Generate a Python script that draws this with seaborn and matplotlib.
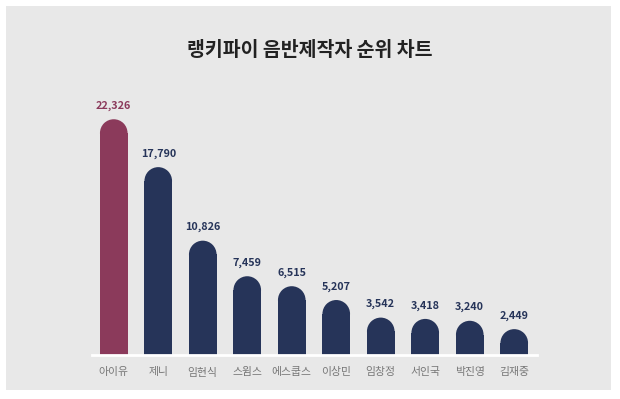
import pandas as pd
import matplotlib
matplotlib.use("Agg")
import matplotlib.pyplot as plt
from matplotlib.patches import Rectangle, Ellipse
import seaborn as sns

# Chart data
producers = ["아이유", "제니", "임현식", "스윔스", "에스쿱스",
             "이상민", "임창정", "서인국", "박진영", "김재중"]
scores = [22326, 17790, 10826, 7459, 6515, 5207, 3542, 3418, 3240, 2449]

NAVY = "#263459"
MAROON = "#8b3a5b"
PANEL = "#e8e8e8"

sns.set_theme(style="white")
plt.rcParams["font.family"] = ["Noto Sans CJK KR", "DejaVu Sans"]

df = pd.DataFrame({"producer": producers, "score": scores})
palette = [MAROON] + [NAVY] * (len(producers) - 1)

W, H = 620, 399
fig = plt.figure(figsize=(W / 100, H / 100), dpi=100, facecolor="white")

# gray panel behind the chart
fig.patches.append(Rectangle((6 / W, 1 - 390 / H), 605 / W, 384 / H,
                             transform=fig.transFigure, facecolor=PANEL,
                             edgecolor="none", zorder=-1))

ax = fig.add_axes([91.5 / W, 1 - 355 / H, 445 / W, 264 / H])
ax.set_facecolor("none")

sns.barplot(data=df, x="producer", y="score", hue="producer",
            palette=palette, saturation=1, width=0.62, legend=False, ax=ax)
ax.set_xlim(-0.5, len(producers) - 0.5)
ax.set_ylim(0, 25000)

# round the bar tops: shorten each bar by the cap radius, add a half-ellipse
# that looks like a circle on screen
fig.canvas.draw()
px_x = ax.transData.transform((1, 0))[0] - ax.transData.transform((0, 0))[0]
px_y = ax.transData.transform((0, 1))[1] - ax.transData.transform((0, 0))[1]
aspect = px_x / px_y
for bar in list(ax.patches):
    x0, w, h = bar.get_x(), bar.get_width(), bar.get_height()
    ry = (w / 2) * aspect
    bar.set_height(h - ry)
    bar.set_edgecolor("none")
    ax.add_patch(Ellipse((x0 + w / 2, h - ry), w, 2 * ry,
                         facecolor=bar.get_facecolor(), edgecolor="none",
                         zorder=bar.get_zorder()))

for i, val in enumerate(scores):
    ax.annotate(f"{val:,}", (i, val), xytext=(0, 6), textcoords="offset points",
                ha="center", va="bottom", fontsize=7.8, fontweight="bold",
                color=MAROON if i == 0 else NAVY)

for side in ["top", "right", "left"]:
    ax.spines[side].set_visible(False)
ax.spines["bottom"].set_color("white")
ax.spines["bottom"].set_linewidth(2)
ax.spines["bottom"].set_zorder(3)
ax.set_yticks([])
ax.set_xlabel("")
ax.set_ylabel("")
ax.tick_params(axis="x", length=0, pad=9, labelsize=7.8, labelcolor="#777777")

fig.text(0.5, 1 - 51 / H, "랭키파이 음반제작자 순위 차트", ha="center", va="center",
         fontsize=14, fontweight="bold", color="#222222")

fig.savefig("out.png", dpi=100, facecolor="white")
